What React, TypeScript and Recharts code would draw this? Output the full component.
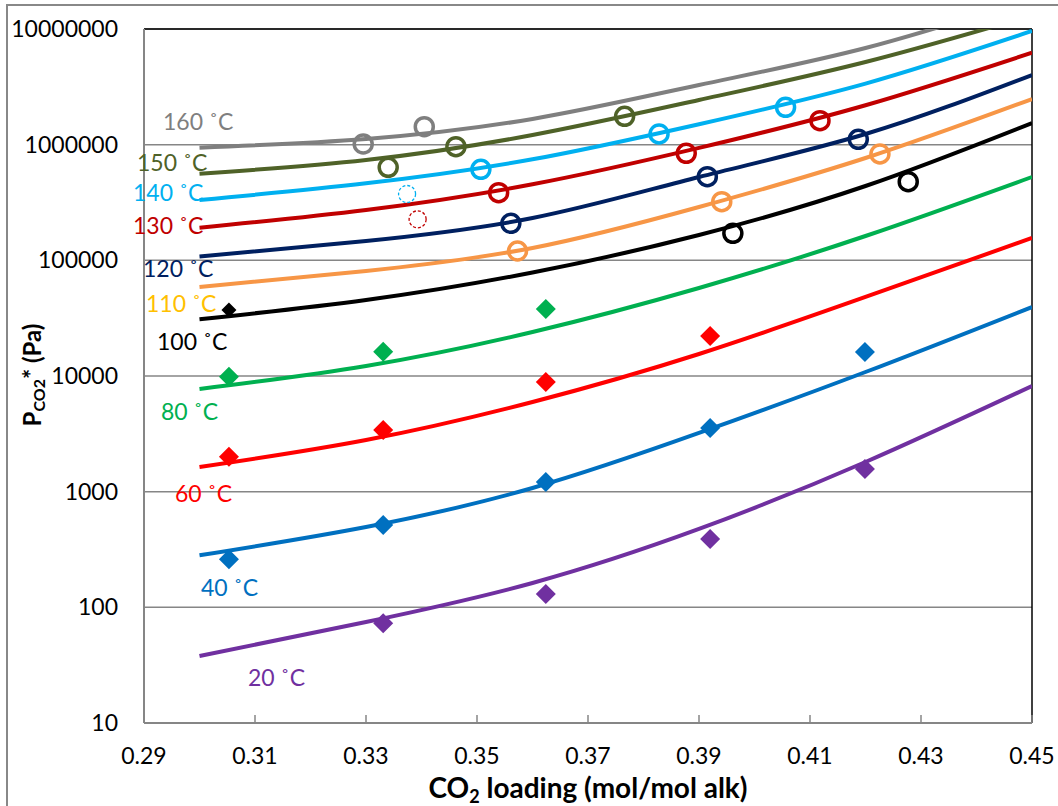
import React from 'react';
import {
    CartesianGrid,
    ComposedChart,
    Line,
    ReferenceLine,
    Scatter,
    XAxis,
    YAxis,
} from 'recharts';

// model curves, read at these loadings
const loadingGrid = [0.30, 0.33, 0.36, 0.39, 0.42, 0.45];

const model160 = [942000, 1120000, 1670000, 3280000, 6850000, 18500000];
const model150 = [561000, 737000, 1212000, 2433000, 5185000, 13100000];
const model140 = [332500, 463400, 747000, 1503000, 3373000, 9610000];
const model130 = [191500, 272400, 454500, 937900, 2193000, 6239000];
const model120 = [107900, 147000, 232300, 525400, 1236000, 4003000];
const model110 = [58830, 80870, 127900, 289200, 766800, 2481000];
const model100 = [30930, 45410, 78500, 165600, 439300, 1539000];
const model80 = [7721, 12210, 24020, 57670, 162300, 525400];
const model60 = [1635, 2797, 5963, 15500, 48210, 156000];
const model40 = [281.8, 495, 1076, 3216, 10830, 39500];
const model20 = [37.96, 74.7, 162.4, 475.8, 1805, 8195];

// measured points [loading, pressure]
const meas160 = [[0.3295, 1013000], [0.3405, 1430000]];
const meas150 = [[0.3340, 637400], [0.3462, 960300], [0.3766, 1759000]];
const meas140 = [[0.3507, 612500], [0.3828, 1237000], [0.4056, 2105000]];
const meas130 = [[0.3539, 384500], [0.3877, 842200], [0.4118, 1612000]];
const meas120 = [[0.3561, 209000], [0.3915, 528500], [0.4187, 1113000]];
const meas110 = [[0.3573, 120400], [0.3941, 321400], [0.4226, 830500]];
const meas100 = [[0.3961, 171300], [0.4277, 478600]];
const meas100Low = [[0.3053, 37210]];
const meas80 = [[0.3053, 9863], [0.3331, 16230], [0.3624, 37960]];
const meas60 = [[0.3053, 2006], [0.3331, 3414], [0.3624, 8878], [0.3920, 22180]];
const meas40 = [[0.3053, 260.3], [0.3331, 515.1], [0.3624, 1212], [0.3920, 3553], [0.4199, 16130]];
const meas20 = [[0.3331, 72.8], [0.3624, 130.5], [0.3920, 389.8], [0.4199, 1571]];
const dashed140 = [[0.3374, 374600]];
const dashed130 = [[0.3393, 226300]];

const xTicks = [0.29, 0.31, 0.33, 0.35, 0.37, 0.39, 0.41, 0.43, 0.45];
const yTicks = [10, 100, 1000, 10000, 100000, 1000000, 10000000];

const curves = [
    { name: '160', values: model160, color: '#7F7F7F' },
    { name: '150', values: model150, color: '#4F6228' },
    { name: '140', values: model140, color: '#00B0F0' },
    { name: '130', values: model130, color: '#C00000' },
    { name: '120', values: model120, color: '#002060' },
    { name: '110', values: model110, color: '#F79646' },
    { name: '100', values: model100, color: '#000000' },
    { name: '80', values: model80, color: '#00B050' },
    { name: '60', values: model60, color: '#FF0000' },
    { name: '40', values: model40, color: '#0070C0' },
    { name: '20', values: model20, color: '#7030A0' },
];

const rings = [
    { pts: meas160, color: '#7F7F7F' },
    { pts: meas150, color: '#4F6228' },
    { pts: meas140, color: '#00B0F0' },
    { pts: meas130, color: '#C00000' },
    { pts: meas120, color: '#002060' },
    { pts: meas110, color: '#F79646' },
    { pts: meas100, color: '#000000' },
];

const diamonds = [
    { pts: meas100Low, color: '#000000', half: 7.5 },
    { pts: meas80, color: '#00B050', half: 10 },
    { pts: meas60, color: '#FF0000', half: 10 },
    { pts: meas40, color: '#0070C0', half: 10 },
    { pts: meas20, color: '#7030A0', half: 10 },
];

const dashedRings = [
    { pts: dashed140, color: '#00B0F0' },
    { pts: dashed130, color: '#C00000' },
];

const tempLabels = [
    { text: '160 ˚C', color: '#7F7F7F', x: 163, y: 130 },
    { text: '150 ˚C', color: '#4F6228', x: 137, y: 171 },
    { text: '140 ˚C', color: '#00B0F0', x: 133, y: 201 },
    { text: '130 ˚C', color: '#C00000', x: 133, y: 234 },
    { text: '120 ˚C', color: '#002060', x: 143, y: 277 },
    { text: '110 ˚C', color: '#FFC000', x: 146, y: 312 },
    { text: '100 ˚C', color: '#000000', x: 157, y: 350 },
    { text: '80 ˚C', color: '#00B050', x: 161, y: 420 },
    { text: '60 ˚C', color: '#FF0000', x: 175, y: 502 },
    { text: '40 ˚C', color: '#0070C0', x: 201, y: 596 },
    { text: '20 ˚C', color: '#7030A0', x: 248, y: 686 },
];

const FONT = 'Lato, "Open Sans", sans-serif';
const toPoints = (pts: number[][]) => pts.map(([x, y]) => ({ x, y }));

const XTick = ({ x, y, payload }: any) => (
    <g>
        <line x1={x} x2={x} y1={y} y2={y - 8} stroke="#868686" strokeWidth={1.5} />
        <text x={x} y={y + 41} textAnchor="middle" fontSize={23} fontFamily={FONT} fill="#000">
            {Number(payload.value).toFixed(2)}
        </text>
    </g>
);

export default function App() {
    return (
        <div style={{ position: 'absolute', left: 0, top: 0, width: 1058, height: 806, overflow: 'hidden', background: '#fff' }}>
            <div style={{ position: 'absolute', left: 6, top: 4, width: 1100, height: 900, border: '2px solid #888' }} />
            <div style={{ position: 'absolute', left: 0, top: 0 }}>
                <ComposedChart width={1058} height={806} margin={{ top: 29, right: 26, left: 14, bottom: 23 }}>
                    <CartesianGrid vertical={false} stroke="#868686" strokeWidth={1.5} />
                    <XAxis
                        type="number"
                        dataKey="x"
                        domain={[0.29, 0.45]}
                        ticks={xTicks}
                        allowDataOverflow
                        interval={0}
                        height={60}
                        tickSize={0}
                        tickMargin={0}
                        tickLine={false}
                        axisLine={{ stroke: '#868686', strokeWidth: 2 }}
                        tick={<XTick />}
                    />
                    <YAxis
                        type="number"
                        scale="log"
                        domain={[10, 10000000]}
                        ticks={yTicks}
                        allowDataOverflow
                        interval={0}
                        width={130}
                        tickSize={0}
                        tickMargin={26}
                        tickLine={false}
                        axisLine={{ stroke: '#868686', strokeWidth: 2 }}
                        tick={{ fontSize: 23, fontFamily: FONT, fill: '#000' }}
                        tickFormatter={(v) => String(v)}
                    />
                    <ReferenceLine y={10000000} stroke="#000" strokeWidth={1.5} />
                    <ReferenceLine x={0.45} stroke="#000" strokeWidth={1.5} />
                    {curves.map(c => (
                        <Line
                            key={c.name}
                            data={loadingGrid.map((x, i) => ({ x, y: c.values[i] }))}
                            dataKey="y"
                            type="natural"
                            stroke={c.color}
                            strokeWidth={4}
                            dot={false}
                            activeDot={false}
                            isAnimationActive={false}
                        />
                    ))}
                    {rings.map((r, i) => (
                        <Scatter
                            key={`ring-${i}`}
                            data={toPoints(r.pts)}
                            dataKey="y"
                            isAnimationActive={false}
                            shape={(p: any) => (
                                <circle cx={p.cx} cy={p.cy} r={9} fill="none" stroke={r.color} strokeWidth={3.5} />
                            )}
                        />
                    ))}
                    {dashedRings.map((r, i) => (
                        <Scatter
                            key={`dash-${i}`}
                            data={toPoints(r.pts)}
                            dataKey="y"
                            isAnimationActive={false}
                            shape={(p: any) => (
                                <circle cx={p.cx} cy={p.cy} r={8.5} fill="none" stroke={r.color} strokeWidth={1.3} strokeDasharray="3 2" />
                            )}
                        />
                    ))}
                    {diamonds.map((d, i) => (
                        <Scatter
                            key={`dia-${i}`}
                            data={toPoints(d.pts)}
                            dataKey="y"
                            isAnimationActive={false}
                            shape={(p: any) => (
                                <polygon
                                    points={`${p.cx},${p.cy - d.half} ${p.cx + d.half},${p.cy} ${p.cx},${p.cy + d.half} ${p.cx - d.half},${p.cy}`}
                                    fill={d.color}
                                />
                            )}
                        />
                    ))}
                </ComposedChart>
            </div>
            <svg width={1058} height={806} style={{ position: 'absolute', left: 0, top: 0, pointerEvents: 'none' }}>
                {tempLabels.map(l => (
                    <text key={l.text} x={l.x} y={l.y} fontSize={23} fontFamily={FONT} fill={l.color}>{l.text}</text>
                ))}
                <text x={588} y={798} textAnchor="middle" fontSize={28} fontWeight="bold" fontFamily={FONT} fill="#000">
                    CO<tspan fontSize={18} dy={5}>2</tspan><tspan dy={-5}> loading (mol/mol alk)</tspan>
                </text>
                <text transform="translate(41,375) rotate(-90)" textAnchor="middle" fontSize={24} fontWeight="bold" fontFamily={FONT} fill="#000">
                    P<tspan fontSize={16} dy={4}>CO2</tspan><tspan dy={-4}>* (Pa)</tspan>
                </text>
            </svg>
        </div>
    );
}
